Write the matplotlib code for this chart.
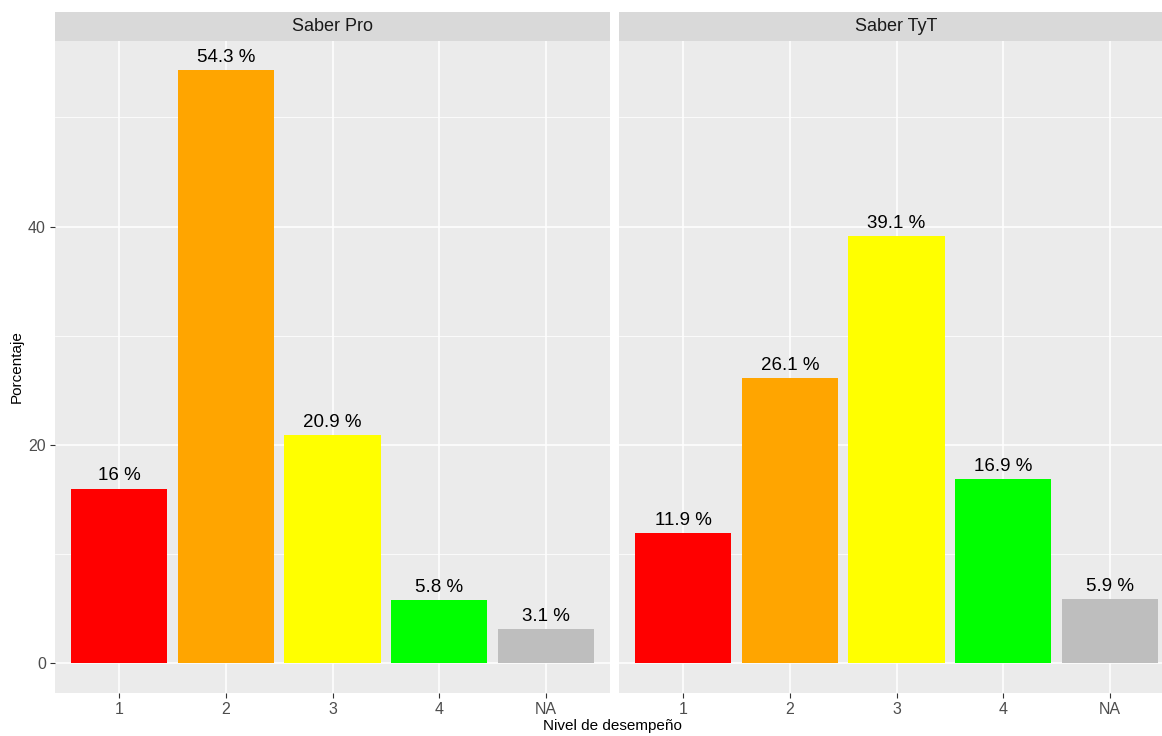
import matplotlib.pyplot as plt
from matplotlib.ticker import MultipleLocator

plt.rcParams['font.family'] = ['Liberation Sans', 'DejaVu Sans']

niveles = ['1', '2', '3', '4', 'NA']
colores = ['#FF0000', '#FFA500', '#FFFF00', '#00FF00', '#BEBEBE']
pruebas = ['Saber Pro', 'Saber TyT']
saber_pro = [16, 54.3, 20.9, 5.8, 3.1]
saber_tyt = [11.9, 26.1, 39.1, 16.9, 5.9]
etiquetas_pro = ['16 %', '54.3 %', '20.9 %', '5.8 %', '3.1 %']
etiquetas_tyt = ['11.9 %', '26.1 %', '39.1 %', '16.9 %', '5.9 %']

fig = plt.figure(figsize=(11.62, 7.36), dpi=100)
W, H = 1162, 736
# posiciones de los paneles en pixeles (el segundo queda cortado a la derecha)
paneles = [(55, 610), (619, 1174)]
top, bottom, strip_h = 41, 693, 29

datos = [(saber_pro, etiquetas_pro), (saber_tyt, etiquetas_tyt)]
for k, ((x0, x1), (vals, labs)) in enumerate(zip(paneles, datos)):
    ax = fig.add_axes([x0 / W, 1 - bottom / H, (x1 - x0) / W, (bottom - top) / H])
    ax.set_facecolor('#EBEBEB')
    pos = list(range(1, len(niveles) + 1))
    ax.bar(pos, vals, width=0.9, color=colores, zorder=3)
    for x, v, t in zip(pos, vals, labs):
        ax.annotate(t, (x, v), xytext=(0, 3), textcoords='offset points',
                    ha='center', va='bottom', fontsize=13.5, color='black', zorder=4)
    ax.set_xlim(0.4, 5.6)
    ax.set_ylim(-2.72, 57.0)
    ax.set_xticks(pos)
    ax.set_xticklabels(niveles)
    ax.yaxis.set_major_locator(MultipleLocator(20))
    ax.yaxis.set_minor_locator(MultipleLocator(10))
    ax.grid(which='major', color='white', linewidth=1.1, zorder=0)
    ax.grid(which='minor', axis='y', color='white', linewidth=0.55, zorder=0)
    ax.set_axisbelow(True)
    for s in ax.spines.values():
        s.set_visible(False)
    ax.tick_params(axis='both', which='major', length=3.5, color='#333333',
                   labelsize=11.5, labelcolor='#4D4D4D', pad=3)
    ax.tick_params(axis='y', which='minor', length=0)
    if k > 0:
        ax.tick_params(axis='y', labelleft=False, left=False)
    # franja del facet
    sax = fig.add_axes([x0 / W, 1 - top / H, (x1 - x0) / W, strip_h / H])
    sax.set_facecolor('#D9D9D9')
    sax.set_xticks([])
    sax.set_yticks([])
    for s in sax.spines.values():
        s.set_visible(False)
    sax.text(0.5, 0.5, pruebas[k], ha='center', va='center', fontsize=13,
             color='#1A1A1A', transform=sax.transAxes)

fig.text(17 / W, 1 - 367 / H, 'Porcentaje', rotation=90, ha='center', va='center', fontsize=11)
fig.text(612 / W, 1 - 726 / H, 'Nivel de desempeño', ha='center', va='center', fontsize=11)

fig.savefig('out.png', dpi=100)
